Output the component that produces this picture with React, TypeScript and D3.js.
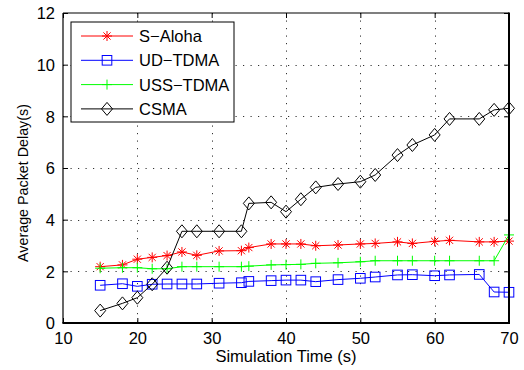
import React, {useEffect, useRef} from "react";
import * as d3 from "d3";

const times = [15, 18, 20, 22, 24, 26, 28, 31, 34, 35, 38, 40, 42, 44, 47, 50, 52, 55, 57, 60, 62, 66, 68, 70];
const sAloha = [2.18, 2.25, 2.47, 2.54, 2.61, 2.75, 2.62, 2.79, 2.8, 2.92, 3.06, 3.06, 3.06, 2.99, 3.02, 3.06, 3.08, 3.14, 3.08, 3.16, 3.2, 3.14, 3.14, 3.17];
const udTdma = [1.46, 1.52, 1.42, 1.5, 1.51, 1.51, 1.51, 1.54, 1.56, 1.61, 1.64, 1.66, 1.66, 1.6, 1.68, 1.73, 1.78, 1.86, 1.87, 1.83, 1.86, 1.88, 1.2, 1.19];
const ussTdma = [2.12, 2.14, 2.14, 2.1, 2.1, 2.18, 2.18, 2.18, 2.18, 2.2, 2.25, 2.26, 2.27, 2.31, 2.33, 2.37, 2.41, 2.41, 2.41, 2.41, 2.41, 2.41, 2.41, 3.41];
const csma = [0.48, 0.76, 0.98, 1.5, 2.14, 3.55, 3.55, 3.55, 3.55, 4.63, 4.67, 4.31, 4.79, 5.25, 5.38, 5.47, 5.73, 6.5, 6.89, 7.28, 7.9, 7.9, 8.25, 8.31];

const seriesNames = ["S\u2212Aloha", "UD\u2212TDMA", "USS\u2212TDMA", "CSMA"];
const seriesColors = ["#ff0000", "#0000ff", "#00ff00", "#000000"];
const seriesMarkers = ["star", "square", "plus", "diamond"];
const seriesValues = [sAloha, udTdma, ussTdma, csma];

const xTicks = [10, 20, 30, 40, 50, 60, 70];
const yTicks = [0, 2, 4, 6, 8, 10, 12];

const width = 524;
const height = 370;
const margin = {top: 13, right: 15, bottom: 47, left: 63};
const FONT = "'Liberation Sans', Arial, Helvetica, sans-serif";

// draws one marker at (0,0) inside the given group
function drawMarker(g: d3.Selection<SVGGElement, unknown, null, undefined>, kind: string, color: string) {
    const r = 5;
    if (kind === "star") {
        const d = r * 0.72;
        g.append("path")
            .attr("d", `M${-r},0H${r}M0,${-r}V${r}M${-d},${-d}L${d},${d}M${-d},${d}L${d},${-d}`)
            .attr("stroke", color).attr("stroke-width", 1).attr("fill", "none");
    } else if (kind === "square") {
        g.append("rect")
            .attr("x", -4.8).attr("y", -4.8).attr("width", 9.6).attr("height", 9.6)
            .attr("stroke", color).attr("stroke-width", 1).attr("fill", "none");
    } else if (kind === "plus") {
        g.append("path")
            .attr("d", `M${-r},0H${r}M0,${-r}V${r}`)
            .attr("stroke", color).attr("stroke-width", 1).attr("fill", "none");
    } else {
        g.append("path")
            .attr("d", `M0,-6.5L5.5,0L0,6.5L-5.5,0Z`)
            .attr("stroke", color).attr("stroke-width", 1).attr("fill", "none");
    }
}

const App: React.FC = () => {
    const svgRef = useRef<SVGSVGElement | null>(null);

    useEffect(() => {
        const svg = d3.select(svgRef.current);
        svg.selectAll("*").remove();

        const innerWidth = width - margin.left - margin.right;
        const innerHeight = height - margin.top - margin.bottom;

        const x = d3.scaleLinear().domain([10, 70]).range([margin.left, margin.left + innerWidth]);
        const y = d3.scaleLinear().domain([0, 12]).range([margin.top + innerHeight, margin.top]);

        svg.append("rect").attr("width", width).attr("height", height).attr("fill", "#fff");

        // dotted grid
        const grid = svg.append("g").attr("stroke", "#333").attr("stroke-width", 1)
            .attr("stroke-dasharray", "1.2,6.3");
        xTicks.slice(1, -1).forEach(t => {
            grid.append("line").attr("x1", Math.round(x(t)) + 0.5).attr("x2", Math.round(x(t)) + 0.5)
                .attr("y1", y(12)).attr("y2", y(0));
        });
        yTicks.slice(1, -1).forEach(t => {
            grid.append("line").attr("y1", Math.round(y(t)) + 0.5).attr("y2", Math.round(y(t)) + 0.5)
                .attr("x1", x(10)).attr("x2", x(70));
        });

        // series
        const line = d3.line<number>()
            .x((_, i) => x(times[i]))
            .y(d => y(d));

        seriesValues.forEach((vals, si) => {
            svg.append("path")
                .datum(vals)
                .attr("d", line)
                .attr("fill", "none")
                .attr("stroke", seriesColors[si])
                .attr("stroke-width", 1);
            vals.forEach((v, i) => {
                const m = svg.append("g").attr("transform", `translate(${x(times[i])},${y(v)})`);
                drawMarker(m, seriesMarkers[si], seriesColors[si]);
            });
        });

        // axes (ticks inside, on all four sides)
        const tickLen = 5;
        const bottomAxis = d3.axisBottom(x).tickValues(xTicks).tickSize(-tickLen).tickPadding(9).tickFormat(d3.format("d"));
        const leftAxis = d3.axisLeft(y).tickValues(yTicks).tickSize(-tickLen).tickPadding(8).tickFormat(d3.format("d"));
        const topAxis = d3.axisTop(x).tickValues(xTicks).tickSize(-tickLen).tickFormat(() => "");
        const rightAxis = d3.axisRight(y).tickValues(yTicks).tickSize(-tickLen).tickFormat(() => "");

        const gb = svg.append("g").attr("transform", `translate(0,${y(0)})`).call(bottomAxis);
        const gl = svg.append("g").attr("transform", `translate(${x(10)},0)`).call(leftAxis);
        const gt = svg.append("g").attr("transform", `translate(0,${y(12)})`).call(topAxis);
        const gr = svg.append("g").attr("transform", `translate(${x(70)},0)`).call(rightAxis);

        [gb, gl, gt, gr].forEach(g => {
            g.select(".domain").remove();
            g.selectAll(".tick line").attr("stroke", "#000");
            g.selectAll("text").attr("fill", "#000").style("font-family", FONT).style("font-size", "16.5px");
        });
        gb.selectAll("text").attr("dy", "0.71em");
        gl.selectAll("text").attr("dy", "0.36em");

        // box
        svg.append("line").attr("x1", x(10)).attr("x2", x(70)).attr("y1", y(12)).attr("y2", y(12))
            .attr("stroke", "#000").attr("stroke-width", 1.2);
        svg.append("line").attr("x1", x(10)).attr("x2", x(10)).attr("y1", y(12)).attr("y2", y(0))
            .attr("stroke", "#000").attr("stroke-width", 1.2);
        svg.append("line").attr("x1", x(10) - 0.6).attr("x2", x(70) + 1).attr("y1", y(0)).attr("y2", y(0))
            .attr("stroke", "#000").attr("stroke-width", 2);
        svg.append("line").attr("x1", x(70)).attr("x2", x(70)).attr("y1", y(12) - 0.6).attr("y2", y(0) + 1)
            .attr("stroke", "#000").attr("stroke-width", 2);

        // axis titles
        svg.append("text")
            .attr("x", (x(10) + x(70)) / 2).attr("y", 362)
            .attr("text-anchor", "middle")
            .style("font-family", FONT).style("font-size", "16.5px")
            .text("Simulation Time (s)");
        svg.append("text")
            .attr("transform", `translate(28,${(y(0) + y(12)) / 2 + 15}) rotate(-90)`)
            .attr("text-anchor", "middle")
            .style("font-family", FONT).style("font-size", "14.3px")
            .text("Average Packet Delay(s)");

        // legend
        const lg = svg.append("g").attr("transform", "translate(71,22)");
        lg.append("rect").attr("width", 163).attr("height", 100)
            .attr("fill", "#fff").attr("stroke", "#000").attr("stroke-width", 1);
        seriesNames.forEach((name, i) => {
            const cy = 14 + i * 24.3;
            lg.append("line").attr("x1", 10).attr("x2", 62).attr("y1", cy).attr("y2", cy)
                .attr("stroke", seriesColors[i]).attr("stroke-width", 1);
            const m = lg.append("g").attr("transform", `translate(36,${cy})`);
            drawMarker(m, seriesMarkers[i], seriesColors[i]);
            lg.append("text").attr("x", 68).attr("y", cy).attr("dy", "0.36em")
                .style("font-family", FONT).style("font-size", "16.5px")
                .text(name);
        });
    }, []);

    return <svg ref={svgRef} width={width} height={height}
                style={{position: "absolute", left: 0, top: 0}}/>;
};

export default App;
